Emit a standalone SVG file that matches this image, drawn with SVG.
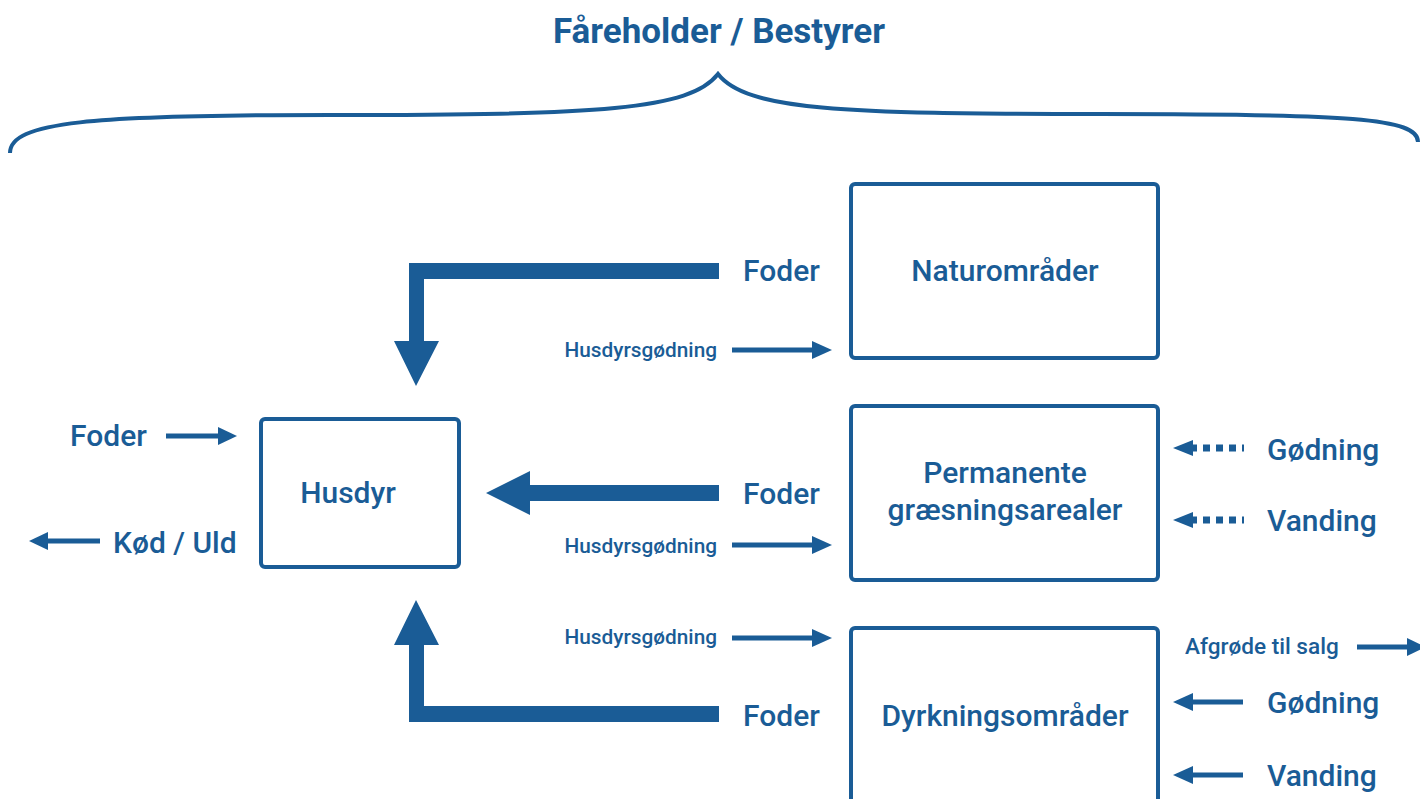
<svg xmlns="http://www.w3.org/2000/svg" width="1420" height="799" viewBox="0 0 1420 799">
<style>
text{font-family:Roboto,"Liberation Sans",sans-serif;font-weight:500;fill:#1a5c96}
.big{font-size:30px}
.sm{font-size:20.8px}
.af{font-size:22.6px}
.t{font-size:35px;font-weight:700}
.box{fill:#fff;stroke:#1a5c96;stroke-width:4}
.ln{stroke:#1a5c96;stroke-width:5;fill:none}
.dot{stroke:#1a5c96;stroke-width:7;stroke-dasharray:7 6;fill:none}
.fill{fill:#1a5c96}
</style>
<rect width="1420" height="799" fill="#fff"/>
<text class="t" x="719" y="43" text-anchor="middle">Fåreholder / Bestyrer</text>
<path d="M10,153 C10,122 90,115 330,115 C 600,115 690,110 718,74 C 746,110 840,114 1100,114 C 1350,114 1418,118 1418,142" fill="none" stroke="#1a5c96" stroke-width="4"/>

<g id="naturomrader">
<rect class="box" x="851" y="184" width="307" height="174" rx="4"/>
<text class="big" x="1005" y="281" text-anchor="middle">Naturområder</text>
</g>
<g id="permanente">
<rect class="box" x="851" y="406" width="307" height="174" rx="4"/>
<text class="big" x="1005" y="483" text-anchor="middle">Permanente</text>
<text class="big" x="1005" y="520" text-anchor="middle">græsningsarealer</text>
</g>
<g id="dyrkning">
<rect class="box" x="851" y="628" width="307" height="190" rx="4"/>
<text class="big" x="1005" y="726" text-anchor="middle">Dyrkningsområder</text>
</g>
<g id="husdyr">
<rect class="box" x="261" y="419" width="198" height="148" rx="4"/>
<text class="big" x="348" y="503" text-anchor="middle">Husdyr</text>
</g>

<g id="connectors">
<path class="fill" d="M719,263 L409,263 L409,341 L394,341 L416,386 L439,341 L424,341 L424,279 L719,279 Z"/>
<path class="fill" d="M719,485 L530,485 L530,471 L486,493 L530,515 L530,501 L719,501 Z"/>
<path class="fill" d="M719,722 L409,722 L409,645 L394,645 L416,600 L439,645 L424,645 L424,706 L719,706 Z"/>

<line class="ln" x1="732" y1="350" x2="815" y2="350"/>
<polygon class="fill" points="812,341 832,350 812,359"/>
<line class="ln" x1="732" y1="545" x2="815" y2="545"/>
<polygon class="fill" points="812,536 832,545 812,554"/>
<line class="ln" x1="732" y1="638" x2="815" y2="638"/>
<polygon class="fill" points="812,629 832,638 812,647"/>

<line class="ln" x1="166" y1="436" x2="220" y2="436"/>
<polygon class="fill" points="218,427 237,436 218,445"/>
<line class="ln" x1="100" y1="541" x2="46" y2="541"/>
<polygon class="fill" points="48,532 29,541 48,550"/>

<polygon class="fill" points="1193,440 1173,448 1193,456"/>
<line class="dot" x1="1190" y1="448" x2="1244" y2="448"/>
<polygon class="fill" points="1193,512 1173,520 1193,528"/>
<line class="dot" x1="1190" y1="520" x2="1244" y2="520"/>

<line class="ln" x1="1357" y1="647" x2="1410" y2="647"/>
<polygon class="fill" points="1407,638 1426,647 1407,656"/>
<polygon class="fill" points="1193,693 1173,702 1193,711"/>
<line class="ln" x1="1190" y1="702" x2="1243" y2="702"/>
<polygon class="fill" points="1193,766 1173,775 1193,784"/>
<line class="ln" x1="1190" y1="775" x2="1243" y2="775"/>
</g>

<text class="big" x="743" y="281">Foder</text>
<text class="big" x="743" y="504">Foder</text>
<text class="big" x="743" y="726">Foder</text>
<text class="sm" x="717" y="357" text-anchor="end">Husdyrsgødning</text>
<text class="sm" x="717" y="553" text-anchor="end">Husdyrsgødning</text>
<text class="sm" x="717" y="644" text-anchor="end">Husdyrsgødning</text>
<text class="big" x="70" y="446">Foder</text>
<text class="big" x="113" y="553">Kød / Uld</text>
<text class="big" x="1267" y="460">Gødning</text>
<text class="big" x="1267" y="531">Vanding</text>
<text class="af" x="1185" y="654">Afgrøde til salg</text>
<text class="big" x="1267" y="713">Gødning</text>
<text class="big" x="1267" y="786">Vanding</text>
</svg>
